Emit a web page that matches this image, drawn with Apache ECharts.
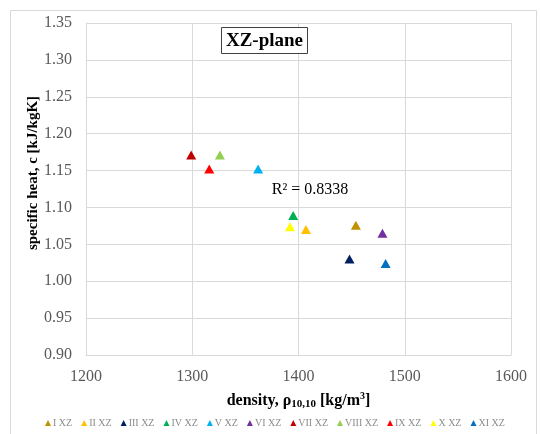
<!DOCTYPE html>
<html><head><meta charset="utf-8">
<script src="https://cdn.jsdelivr.net/npm/echarts@6/dist/echarts.min.js"></script>
<style>html,body{margin:0;padding:0;background:#fff}#c{width:540px;height:434px}</style>
</head><body><div id="c"></div>
<script>
const names = ['I XZ','II XZ','III XZ','IV XZ','V XZ','VI XZ','VII XZ','VIII XZ','IX XZ','X XZ','XI XZ'];
const density = [1454, 1407, 1448, 1395, 1362, 1479, 1299, 1326, 1316, 1392, 1482];
const heat = [1.076, 1.070, 1.030, 1.089, 1.152, 1.065, 1.171, 1.171, 1.152, 1.074, 1.024];
const colors = ['#BF9000','#FFC000','#002060','#00B050','#00B0F0','#7030A0','#C00000','#92D050','#FF0000','#FFFF00','#0070C0'];
const xTicks = [1200, 1300, 1400, 1500, 1600];
const yTicks = [0.90, 0.95, 1.00, 1.05, 1.10, 1.15, 1.20, 1.25, 1.30, 1.35];
const r2Text = 'R² = 0.8338';
const titleText = 'XZ-plane';

const serif = '"Liberation Serif", "Times New Roman", serif';
const chart = echarts.init(document.getElementById('c'));
const series = names.map((n, i) => ({
  name: n, type: 'scatter', symbol: 'triangle', symbolSize: [10, 9],
  itemStyle: { color: colors[i], opacity: 1 },
  data: [[density[i], heat[i]]]
}));
chart.setOption({
  animation: false,
  grid: { left: 86, right: 29, top: 23, bottom: 79, containLabel: false },
  xAxis: {
    type: 'value', min: xTicks[0], max: xTicks[xTicks.length-1], interval: 100,
    axisLine: { show: true, lineStyle: { color: '#d9d9d9' } },
    axisTick: { show: false },
    splitLine: { show: true, lineStyle: { color: '#d9d9d9' } },
    axisLabel: { color: '#595959', fontFamily: serif, fontSize: 16, margin: 14, formatter: v => String(v) },
    name: '{b|density, ρ}{s|10,10}{b| [kg/m}{p|3}{b|]}',
    nameLocation: 'middle', nameGap: 36,
    nameTextStyle: { rich: {
      b: { fontFamily: serif, fontWeight: 'bold', fontSize: 16, color: '#000' },
      s: { fontFamily: serif, fontWeight: 'bold', fontSize: 11, color: '#000', verticalAlign: 'bottom', padding: [8,0,0,0] },
      p: { fontFamily: serif, fontWeight: 'bold', fontSize: 10, color: '#000', verticalAlign: 'top', padding: [0,0,6,0] }
    } }
  },
  yAxis: {
    type: 'value', min: 0.90, max: 1.35, interval: 0.05,
    axisLine: { show: true, lineStyle: { color: '#d9d9d9' } },
    axisTick: { show: false },
    splitLine: { show: true, lineStyle: { color: '#d9d9d9' } },
    axisLabel: { color: '#595959', fontFamily: serif, fontSize: 16, margin: 14,
      formatter: v => v.toFixed(2) }
  },
  legend: {
    top: 418, left: 45, itemWidth: 6, itemHeight: 6, itemGap: 9, padding: 0,
    icon: 'triangle',
    data: names,
    textStyle: { color: '#8c8c8c', fontFamily: serif, fontSize: 10, padding: [0,0,0,-3] }
  },
  graphic: [
    { type: 'rect', shape: { x: 10.5, y: 10.5, width: 526, height: 440 }, style: { fill: 'none', stroke: '#d9d9d9', lineWidth: 1 }, silent: true, z: -1 },
    { type: 'rect', shape: { x: 221.5, y: 27.5, width: 86, height: 26 }, style: { fill: '#fff', stroke: '#404040', lineWidth: 1 }, z: 10 },
    { type: 'text', x: 264.5, y: 41, style: { text: titleText, fontFamily: serif, fontWeight: 'bold', fontSize: 19, fill: '#000', align: 'center', verticalAlign: 'middle' }, z: 11 },
    { type: 'text', x: 310, y: 190, style: { text: r2Text, fontFamily: serif, fontSize: 16, fill: '#000', align: 'center', verticalAlign: 'middle' }, z: 11 },
    { type: 'text', x: 33, y: 173, rotation: Math.PI/2, style: { text: 'specific heat, c [kJ/kgK]', fontFamily: serif, fontWeight: 'bold', fontSize: 15, fill: '#000', align: 'center', verticalAlign: 'middle' }, z: 11 }
  ],
  series
});
</script></body></html>
